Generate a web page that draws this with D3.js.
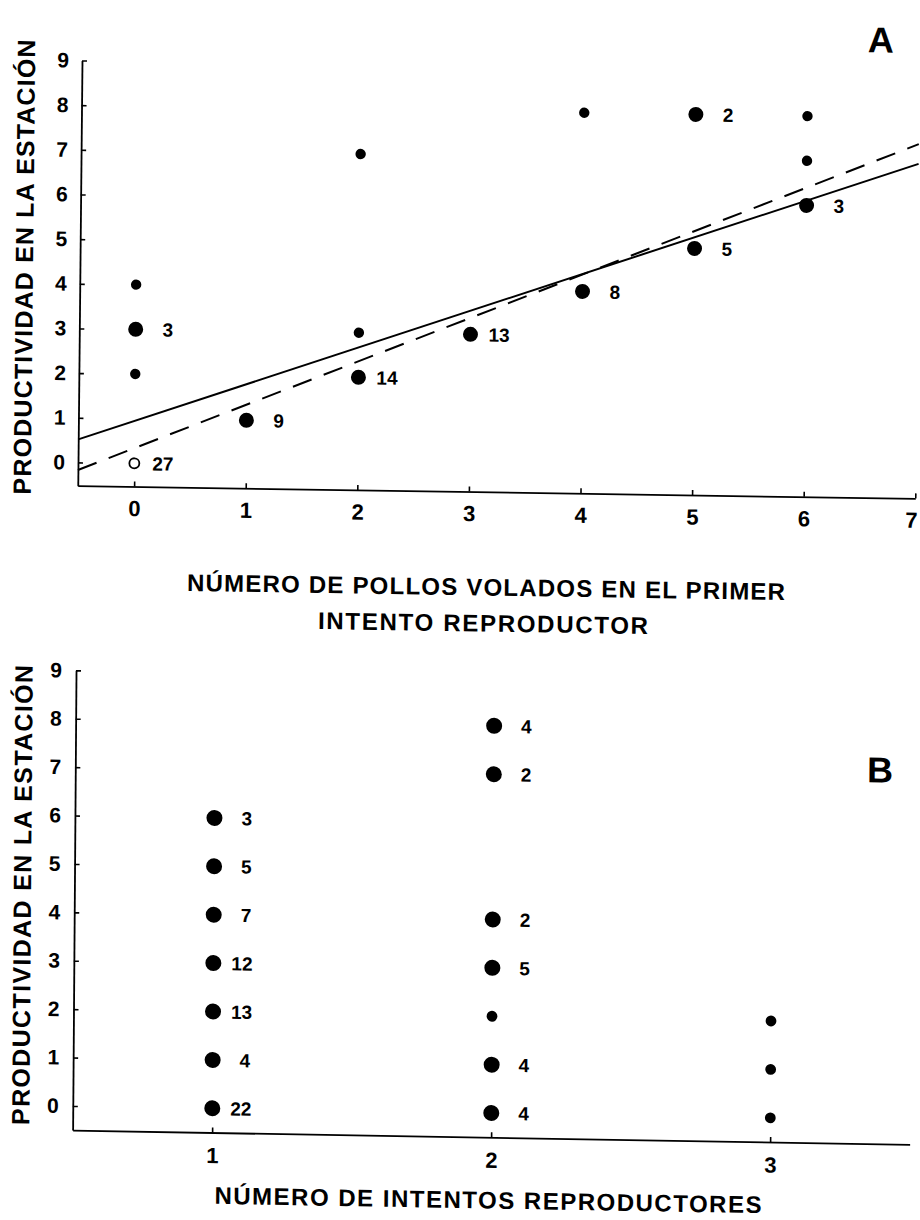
<!DOCTYPE html>
<html>
<head>
<meta charset="utf-8">
<script src="https://cdn.jsdelivr.net/npm/d3@7"></script>
<style>
  html, body { margin: 0; padding: 0; background: #fff; }
  svg { display: block; }
</style>
</head>
<body>
<div id="chart"></div>
<script>
// Panel A: fledglings in the first breeding attempt vs. season productivity
const fledgedFirst = [0, 0, 0, 0, 1, 2, 2, 2, 3, 4, 4, 5, 5, 6, 6, 6];
const prodA        = [4, 3, 2, 0, 1, 7, 3, 2, 3, 8, 4, 8, 5, 8, 7, 6];
const nestsA       = [1, 3, 1, 27, 9, 1, 1, 14, 13, 1, 8, 2, 5, 1, 1, 3];
const openA        = [false, false, false, true, false, false, false, false,
                      false, false, false, false, false, false, false, false];

// Fitted lines for panel A: [intercept, slope]
const fitSolid  = [0.95, 0.86];
const fitDashed = [0.34, 1.01];

// Panel B: number of breeding attempts vs. season productivity
const attempts = [1, 1, 1, 1, 1, 1, 1, 2, 2, 2, 2, 2, 2, 2, 3, 3, 3];
const prodB    = [6, 5, 4, 3, 2, 1, 0, 8, 7, 4, 3, 2, 1, 0, 2, 1, 0];
const nestsB   = [3, 5, 7, 12, 13, 4, 22, 4, 2, 2, 5, 1, 4, 4, 1, 1, 1];

// Axis tick labels
const yTicks  = [0, 1, 2, 3, 4, 5, 6, 7, 8, 9];
const xTicksA = [0, 1, 2, 3, 4, 5, 6, 7];
const xTicksB = [1, 2, 3];

const yTitle  = "PRODUCTIVIDAD EN LA ESTACIÓN";
const xTitleA = ["NÚMERO DE POLLOS VOLADOS EN EL PRIMER", "INTENTO REPRODUCTOR"];
const xTitleB = "NÚMERO DE INTENTOS REPRODUCTORES";

const W = 920, H = 1220;
const FONT = "'Liberation Sans Narrow', 'Arial Narrow', 'Liberation Sans', Arial, Helvetica, sans-serif";
const TITLE_FONT = "'Liberation Sans', Arial, Helvetica, sans-serif";

const svg = d3.select("#chart").append("svg")
  .attr("width", W).attr("height", H)
  .attr("viewBox", `0 0 ${W} ${H}`);
svg.append("rect").attr("width", W).attr("height", H).attr("fill", "#fff");

// Each panel sits on a slightly sheared frame anchored at its data origin.
function makePanel(origin, b, c) {
  const g = svg.append("g")
    .attr("transform",
      `translate(${origin[0]},${origin[1]}) matrix(1,${b},${c},1,0,0) translate(${-origin[0]},${-origin[1]})`);
  const det = 1 - b * c;
  // page point -> local frame point
  const local = ([sx, sy]) => {
    const dx = sx - origin[0], dy = sy - origin[1];
    return [origin[0] + (dx - c * dy) / det, origin[1] + (dy - b * dx) / det];
  };
  return { g, local };
}

function styleAxis(sel, size) {
  sel.select(".domain").attr("stroke", "#000").attr("stroke-width", 1.8);
  sel.selectAll(".tick line").attr("stroke", "#000").attr("stroke-width", 1.6);
  sel.selectAll(".tick text")
    .attr("font-family", FONT).attr("font-size", size)
    .attr("font-weight", "bold")
    .attr("fill", "#000");
  sel.attr("font-family", null).attr("font-size", null);
}

function yAxisTitle(p, center, len) {
  const [x, y] = p.local(center);
  p.g.append("text")
    .attr("transform", `translate(${x},${y}) rotate(-90)`)
    .attr("text-anchor", "middle")
    .attr("dominant-baseline", "central")
    .attr("font-family", TITLE_FONT).attr("font-weight", "bold")
    .attr("font-size", 25)
    .attr("textLength", len).attr("lengthAdjust", "spacing")
    .text(yTitle);
}

function xAxisTitle(p, text, center, len) {
  const [x, y] = p.local(center);
  p.g.append("text")
    .attr("x", x).attr("y", y)
    .attr("text-anchor", "middle")
    .attr("dominant-baseline", "central")
    .attr("font-family", TITLE_FONT).attr("font-weight", "bold")
    .attr("font-size", 24)
    .attr("textLength", len).attr("lengthAdjust", "spacing")
    .text(text);
}

function panelLetter(p, text, center) {
  const [x, y] = p.local(center);
  p.g.append("text")
    .attr("x", x).attr("y", y)
    .attr("text-anchor", "middle")
    .attr("dominant-baseline", "central")
    .attr("font-family", TITLE_FONT).attr("font-weight", "bold")
    .attr("font-size", 36)
    .text(text);
}

function drawPoints(p, xs, ys, ns, opens, x, y, rBig, rSmall) {
  const data = xs.map((v, i) => ({ x: v, y: ys[i], n: ns[i], open: opens ? opens[i] : false }));
  p.g.append("g").selectAll("circle").data(data).join("circle")
    .attr("cx", d => x(d.x))
    .attr("cy", d => y(d.y))
    .attr("r", d => d.open ? 5 : (d.n > 1 ? rBig : rSmall))
    .attr("fill", d => d.open ? "#fff" : "#000")
    .attr("stroke", "#000")
    .attr("stroke-width", d => d.open ? 1.8 : 0);
  p.g.append("g").selectAll("text").data(data.filter(d => d.n > 1)).join("text")
    .attr("x", d => x(d.x) + (String(d.n).length === 1 ? 27 : 18))
    .attr("y", d => y(d.y))
    .attr("dy", "0.36em")
    .attr("font-family", FONT).attr("font-weight", "bold")
    .attr("font-size", 19)
    .text(d => d.n);
}

// ---------- Panel A ----------
const pA = makePanel([134.3, 463.3], 0.0152, -0.00995);
const xA = d3.scaleLinear().domain([-0.505, 7]).range([78, 915.5]);
const yA = d3.scaleLinear().domain([-0.52, 9]).range([486.5, 61.3]);

pA.g.append("g").attr("transform", `translate(${xA(-0.505)},0)`)
  .call(d3.axisLeft(yA).tickValues(yTicks).tickFormat(d3.format("d"))
    .tickSize(-5).tickSizeOuter(0).tickPadding(13))
  .call(s => styleAxis(s, 21));
pA.g.append("g").attr("transform", `translate(0,${yA(-0.52)})`)
  .call(d3.axisBottom(xA).tickValues(xTicksA).tickFormat(d3.format("d"))
    .tickSize(-5).tickSizeOuter(0).tickPadding(14))
  .call(s => styleAxis(s, 22))
  // the last label sits at the page edge; keep it fully inside
  .call(s => s.selectAll(".tick text").filter(d => d === 7).attr("dx", -4));

// fitted lines
const lineA = d3.line().x(d => xA(d[0])).y(d => yA(d[1]));
const fitPts = f => [-0.505, 7].map(v => [v, f[0] + f[1] * v]);
pA.g.append("path").attr("d", lineA(fitPts(fitSolid)))
  .attr("fill", "none").attr("stroke", "#000").attr("stroke-width", 2);
pA.g.append("path").attr("d", lineA(fitPts(fitDashed)))
  .attr("fill", "none").attr("stroke", "#000").attr("stroke-width", 2)
  .attr("stroke-dasharray", "20,13");

drawPoints(pA, fledgedFirst, prodA, nestsA, openA, xA, yA, 7.5, 5.2);

yAxisTitle(pA, [24, 267], 455);
xAxisTitle(pA, xTitleA[0], [486, 587], 598);
xAxisTitle(pA, xTitleA[1], [483, 623], 330);
panelLetter(pA, "A", [881, 40]);

// ---------- Panel B ----------
const pB = makePanel([212.3, 1108.3], 0.017, -0.0074);
const xB = d3.scaleLinear().domain([0.5, 3.5]).range([72.8, 909.8]);
const yB = d3.scaleLinear().domain([-0.5, 9]).range([1132.5, 672.7]);

pB.g.append("g").attr("transform", `translate(${xB(0.5)},0)`)
  .call(d3.axisLeft(yB).tickValues(yTicks).tickFormat(d3.format("d"))
    .tickSize(-5).tickSizeOuter(0).tickPadding(14))
  .call(s => styleAxis(s, 21));
pB.g.append("g").attr("transform", `translate(0,${yB(-0.5)})`)
  .call(d3.axisBottom(xB).tickValues(xTicksB).tickFormat(d3.format("d"))
    .tickSize(-5).tickSizeOuter(0).tickPadding(15))
  .call(s => styleAxis(s, 22));

drawPoints(pB, attempts, prodB, nestsB, null, xB, yB, 8, 5.4);

yAxisTitle(pB, [22, 895], 460);
xAxisTitle(pB, xTitleB, [488, 1200], 547);
panelLetter(pB, "B", [880, 770]);
</script>
</body>
</html>
